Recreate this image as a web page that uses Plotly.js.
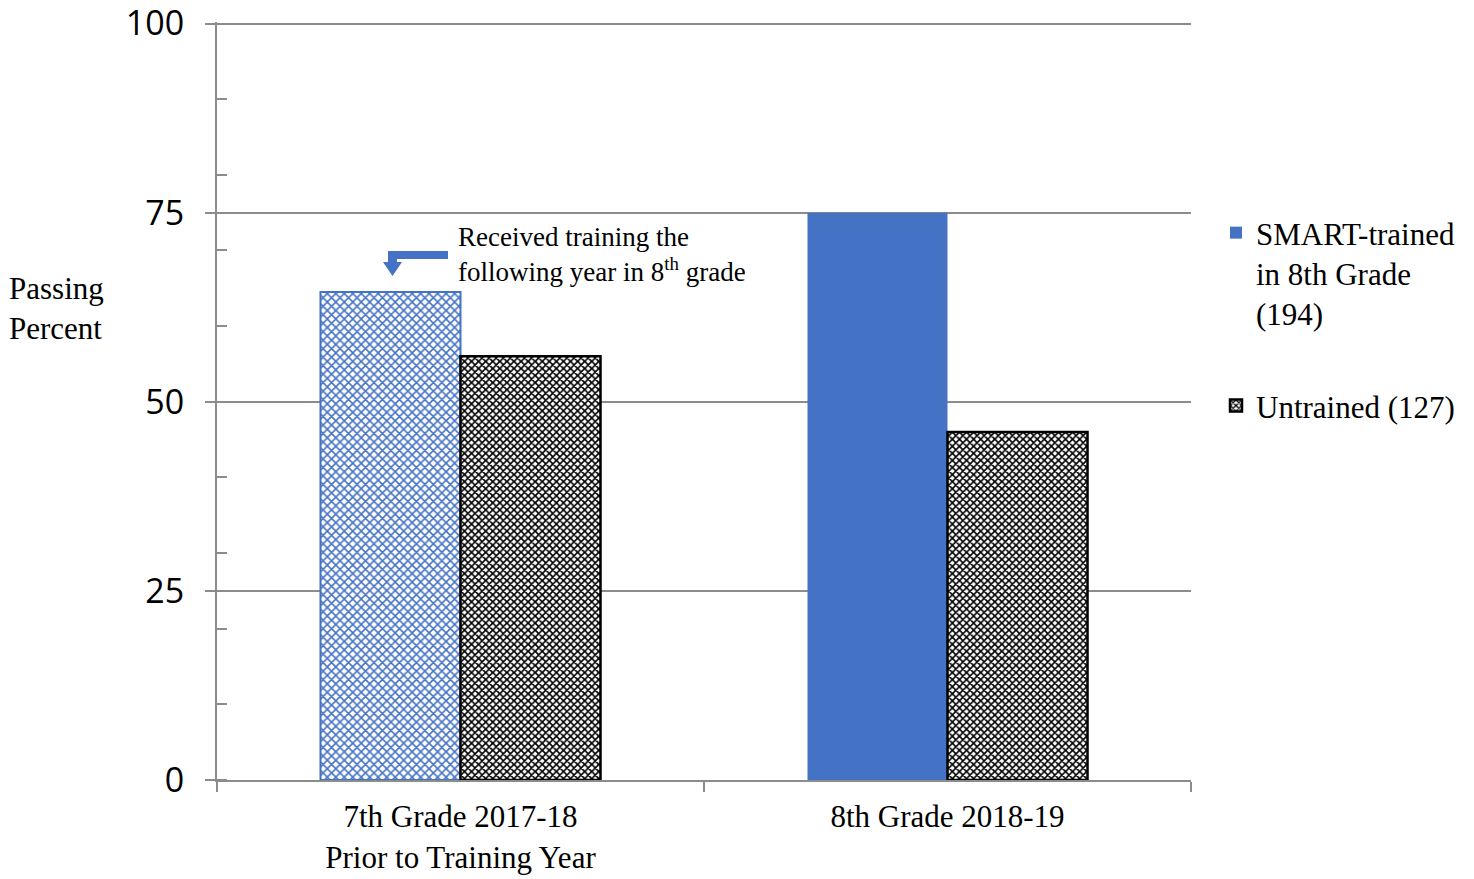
<!DOCTYPE html>
<html>
<head>
<meta charset="utf-8">
<script src="https://cdn.plot.ly/plotly-3.0.1.min.js"></script>
<style>
  html, body { margin: 0; padding: 0; background: #fff; }
  #chart { width: 1474px; height: 879px; }
</style>
</head>
<body>
<div id="chart"></div>
<script>
// values
var categories = ['7th Grade 2017-18<br>Prior to Training Year', '8th Grade 2018-19'];
var smartValues = [64.5, 75];
var untrainedValues = [56, 46];
var seriesNames = ['SMART-trained<br>in 8th Grade<br>(194)', 'Untrained (127)'];

var blue = '#4472C4';
var gray = '#8c8c8c';
var serif = 'Liberation Serif, Times New Roman, serif';

// plot area in pixels, used for the decorative arrow
var L = 217, R = 1191, T = 22, B = 780;
function px(x) { return (x - L) / (R - L); }
function py(y) { return (B - y) / (B - T); }

// 7th grade SMART bar is hatched (prior year, not yet trained)
var smartPrior = {
  x: [categories[0]],
  y: [smartValues[0]],
  type: 'bar',
  offsetgroup: 'smart',
  showlegend: false,
  marker: {
    color: '#ffffff',
    line: {color: blue, width: 2},
    pattern: {shape: 'x', fgcolor: blue, bgcolor: '#ffffff', size: 6, solidity: 0.45}
  },
  hoverinfo: 'y'
};

var smartTrained = {
  x: [categories[1]],
  y: [smartValues[1]],
  type: 'bar',
  name: seriesNames[0],
  legendgroup: 'a',
  offsetgroup: 'smart',
  marker: {color: blue}
};

var untrained = {
  x: categories,
  y: untrainedValues,
  type: 'bar',
  name: seriesNames[1],
  legendgroup: 'b',
  offsetgroup: 'untrained',
  marker: {
    color: '#ffffff',
    line: {color: '#000000', width: 2.5},
    pattern: {shape: 'x', fgcolor: '#000000', bgcolor: '#ffffff', size: 5, solidity: 0.55}
  }
};

var arrowPath =
  'M ' + px(448) + ' ' + py(251) +
  ' L ' + px(388) + ' ' + py(251) +
  ' L ' + px(388) + ' ' + py(262) +
  ' L ' + px(383) + ' ' + py(262) +
  ' L ' + px(392.5) + ' ' + py(276) +
  ' L ' + px(402) + ' ' + py(262) +
  ' L ' + px(397) + ' ' + py(262) +
  ' L ' + px(397) + ' ' + py(259) +
  ' L ' + px(448) + ' ' + py(259) + ' Z';

var layout = {
  width: 1474,
  height: 879,
  margin: {l: L, r: 1474 - R, t: T, b: 879 - B, autoexpand: false},
  paper_bgcolor: '#ffffff',
  plot_bgcolor: '#ffffff',
  barmode: 'group',
  bargap: 0.425,
  bargroupgap: 0,
  xaxis: {
    type: 'category',
    tickson: 'boundaries',
    ticks: 'outside',
    ticklen: 10,
    tickwidth: 2,
    tickcolor: gray,
    showline: true,
    linecolor: gray,
    linewidth: 2,
    showgrid: false,
    ticklabelstandoff: 8,
    tickfont: {family: serif, size: 31, color: '#000'}
  },
  yaxis: {
    range: [0, 100.2],
    tickvals: [0, 25, 50, 75, 100],
    ticks: 'outside',
    ticklen: 10,
    tickwidth: 2,
    tickcolor: gray,
    showline: true,
    linecolor: gray,
    linewidth: 2,
    showgrid: true,
    gridcolor: gray,
    gridwidth: 2,
    zeroline: false,
    ticklabelstandoff: 14,
    ticklabeloverflow: 'allow',
    tickfont: {family: 'Open Sans, sans-serif', size: 34, color: '#000'},
    minor: {dtick: 10, tick0: 0, ticks: 'inside', ticklen: 10, tickwidth: 1.5, tickcolor: gray, showgrid: false}
  },
  legend: {
    x: px(1216),
    y: py(206),
    xanchor: 'left',
    yanchor: 'top',
    valign: 'top',
    traceorder: 'grouped',
    tracegroupgap: 49,
    font: {family: serif, size: 31, color: '#000'},
    bgcolor: 'rgba(0,0,0,0)'
  },
  shapes: [{
    type: 'path',
    xref: 'paper',
    yref: 'paper',
    path: arrowPath,
    fillcolor: blue,
    line: {width: 0}
  }],
  annotations: [
    {
      xref: 'paper', yref: 'paper',
      x: px(56), y: py(309),
      xanchor: 'center', yanchor: 'middle',
      text: 'Passing<br>Percent',
      showarrow: false,
      align: 'left',
      font: {family: serif, size: 31, color: '#000'}
    },
    {
      xref: 'paper', yref: 'paper',
      x: px(456), y: py(220),
      xanchor: 'left', yanchor: 'top',
      text: 'Received training the<br>following year in 8<sup>th</sup> grade',
      showarrow: false,
      align: 'left',
      font: {family: serif, size: 27, color: '#000'}
    }
  ]
};

Plotly.newPlot('chart', [smartPrior, smartTrained, untrained], layout, {displayModeBar: false, displaylogo: false});
</script>
</body>
</html>
